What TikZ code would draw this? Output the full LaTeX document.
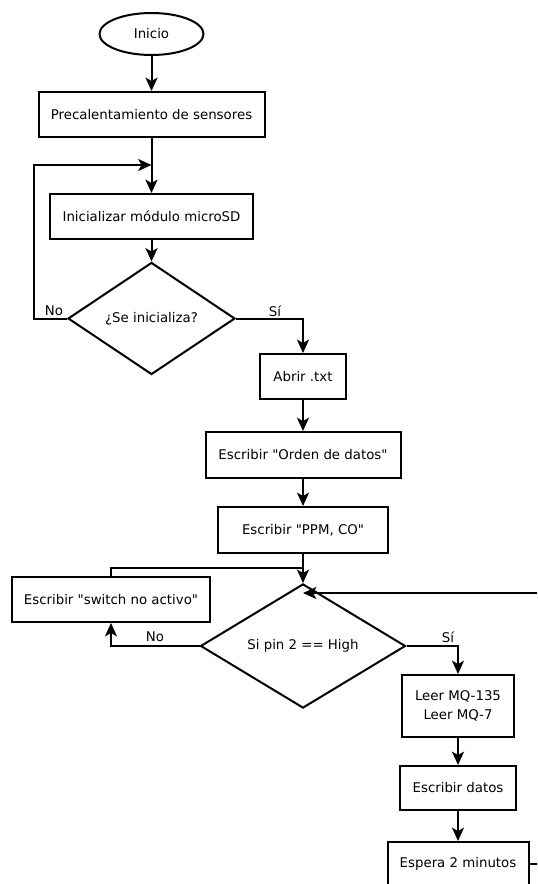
\documentclass[tikz,border=0pt]{standalone}
\usepackage{fontspec}
\setmainfont{DejaVu Sans}[Ligatures=TeXOff]
\usetikzlibrary{shapes.geometric,arrows.meta}

\begin{document}
\begin{tikzpicture}[x=0.75pt, y=-0.75pt, line width=1.5pt,
		>={Stealth[length=10pt,width=9pt,inset=2.5pt]},
		every node/.style={font=\fontsize{10}{14}\selectfont, inner sep=0pt},
		proceso/.style={draw, rectangle, align=center, minimum height=33.75pt},
		decision/.style={draw, diamond}]
				\clip (0,0) rectangle (537,884);
				\node[draw, ellipse, minimum width=78pt, minimum height=31.5pt] (inicio)at(151.5, 34) {Inicio};
				\node[proceso, minimum width=169.5pt] (precal)at(151.5, 114.5) {Precalentamiento de sensores};
				\node[proceso, minimum width=152.25pt] (inicializar)at(151.5, 216.5) {Inicializar módulo microSD};
				\node[decision, minimum width=125.25pt, minimum height=84pt] (seinicia)at(151.5, 318.5) {¿Se inicializa?};
				\node[proceso, minimum width=64.5pt] (abrir)at(303, 376.5) {Abrir .txt};
				\node[proceso, minimum width=146.25pt, minimum height=34.5pt] (orden)at(303, 455) {Escribir "Orden de datos"};
				\node[proceso, minimum width=127.5pt, minimum height=34.5pt] (ppm)at(303, 530) {Escribir "PPM, CO"};
				\node[proceso, minimum width=148.5pt] (switch)at(111, 599.5) {Escribir "switch no activo"};
				\node[decision, minimum width=153.75pt, minimum height=76.5pt] (pin)at(303, 646) {Si pin 2 == High};
				\node[proceso, minimum width=84pt, minimum height=46.5pt] (leer)at(458, 706) {Leer MQ-135\\Leer MQ-7};
				\node[proceso, minimum width=87pt, minimum height=33pt] (datos)at(458, 788) {Escribir datos};
				\node[proceso, minimum width=105.75pt, minimum height=33pt] (espera)at(458, 864) {Espera 2 minutos};
				\node (no1)at(54, 311) {No};
				\node (si1)at(275, 311) {Sí};
				\node (no2)at(155, 637) {No};
				\node (si2)at(448, 637) {Sí};
				\coordinate (m1)at(151.5, 165);
				\coordinate (m2)at(303, 568);
				\coordinate (m3)at(303, 593);
				\draw[->] (inicio) -- (precal);
				\draw[->] (precal) -- (inicializar);
				\draw[->] (inicializar) -- (seinicia);
				\draw[->] (seinicia.west) -- ++(-33, 0) |- (m1);
				\draw[->] (seinicia.east) -| (abrir.north);
				\draw[->] (abrir) -- (orden);
				\draw[->] (orden) -- (ppm);
				\draw[->] (ppm) -- (pin);
				\draw (switch.north) |- (m2);
				\draw[->] (pin.west) -| (switch.south);
				\draw[->] (pin.east) -| (leer.north);
				\draw[->] (leer) -- (datos);
				\draw[->] (datos) -- (espera);
				\draw[->] (espera.east) -- ++(30, 0) |- (m3);
			\end{tikzpicture}
\end{document}
